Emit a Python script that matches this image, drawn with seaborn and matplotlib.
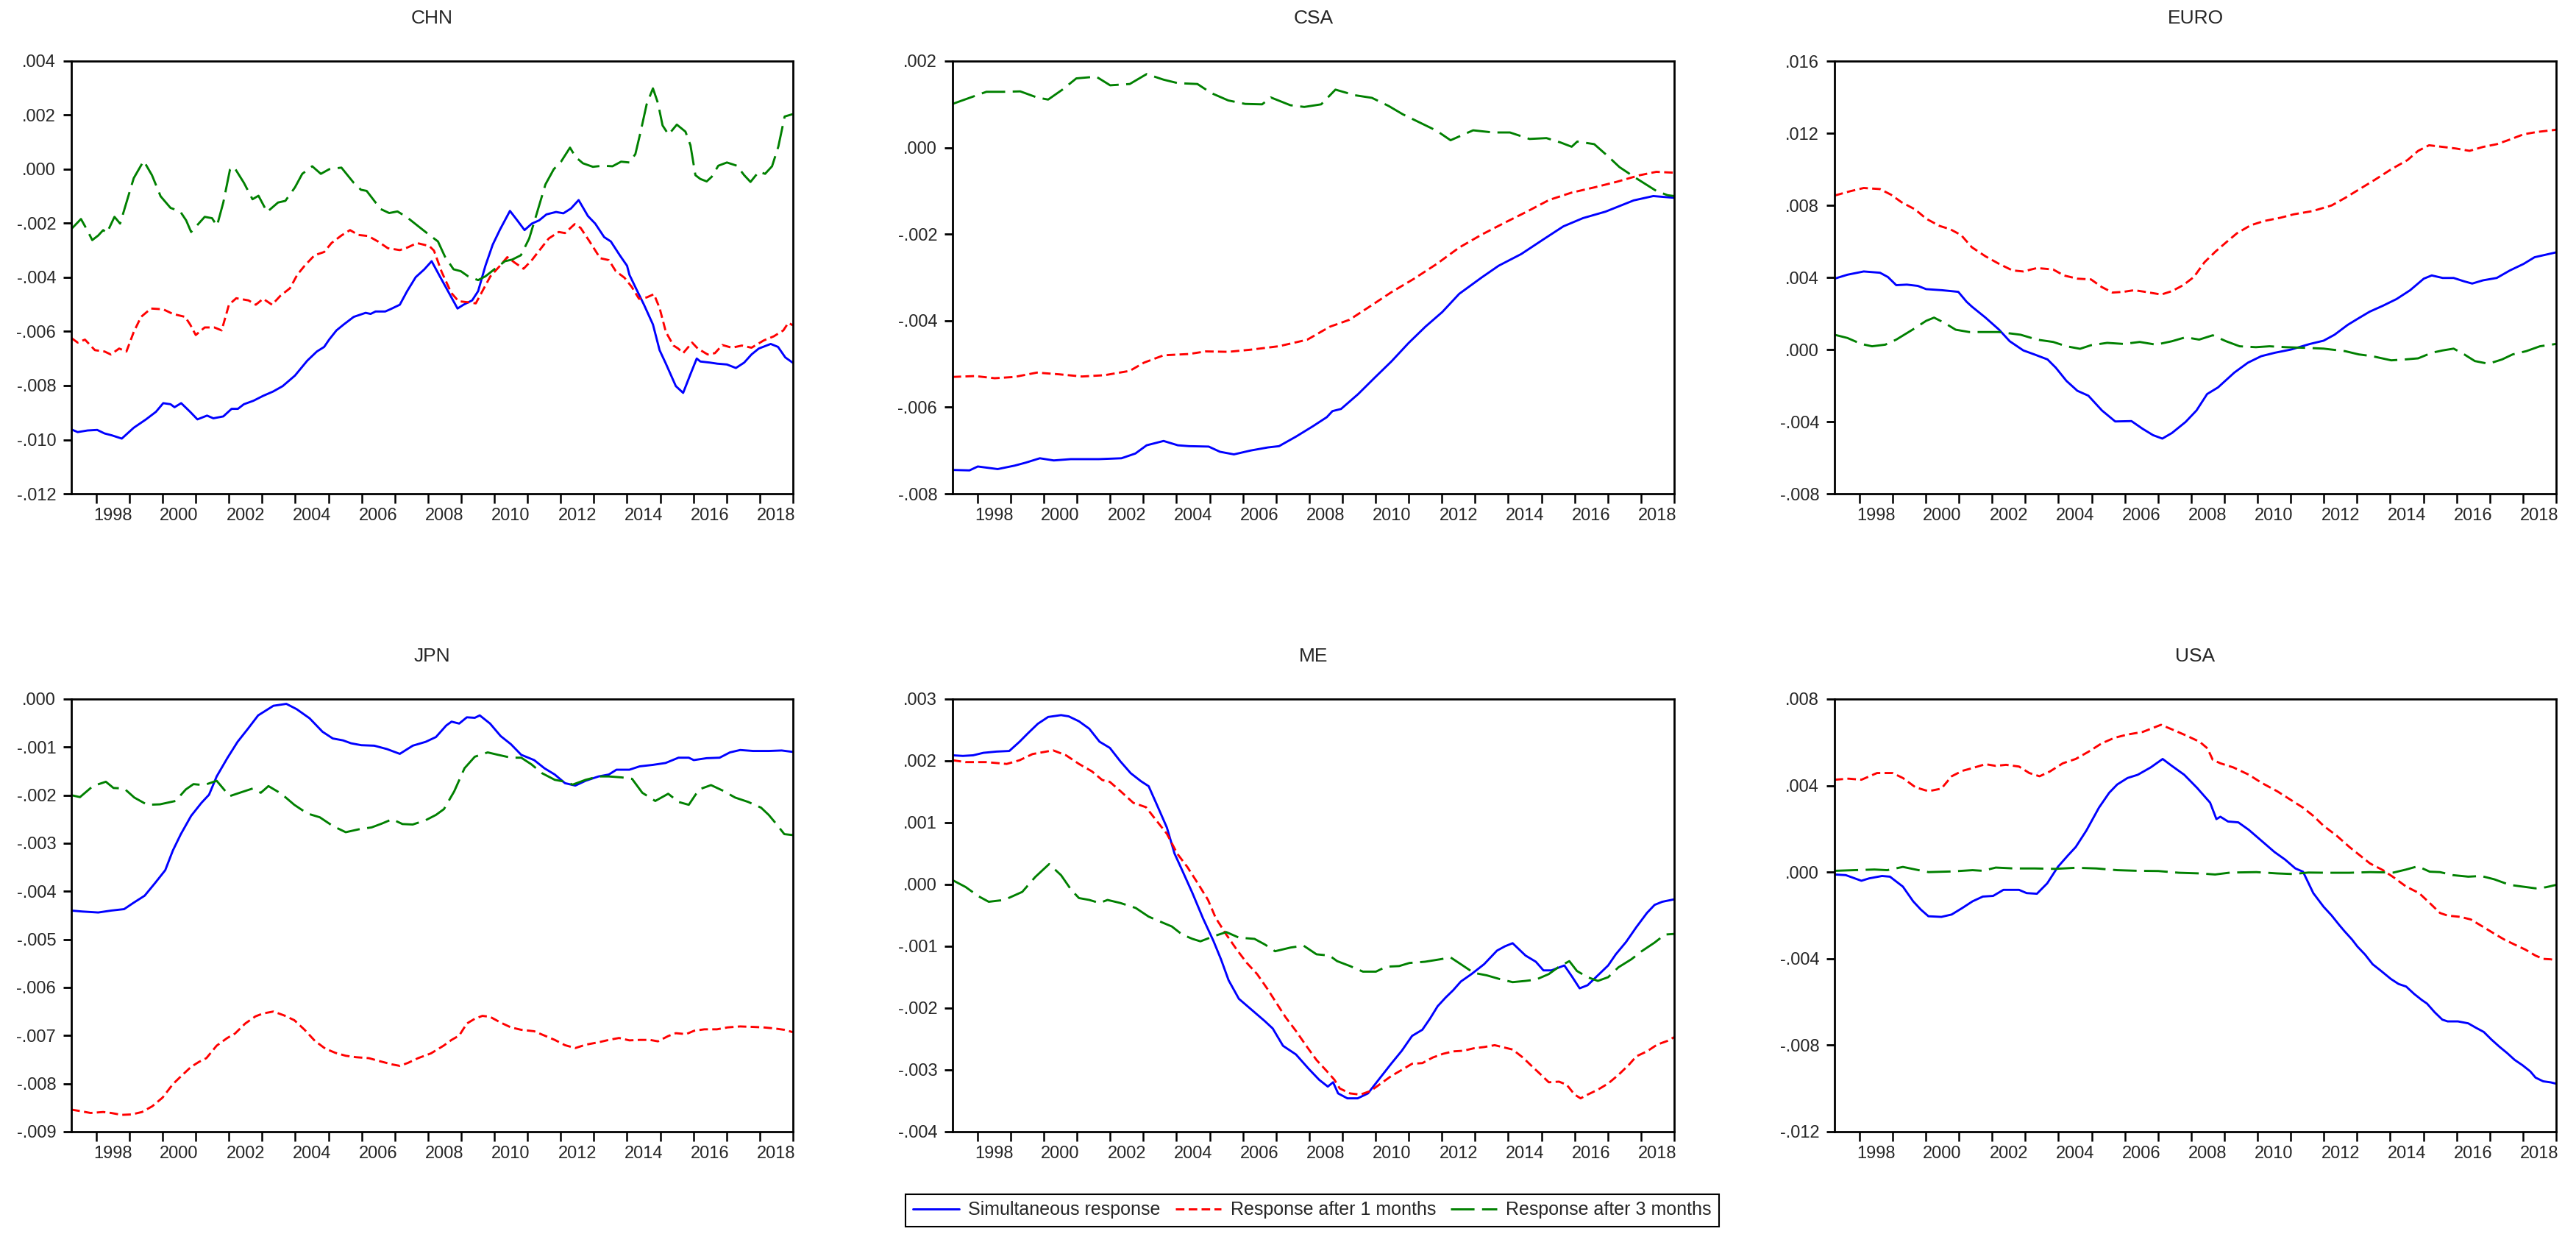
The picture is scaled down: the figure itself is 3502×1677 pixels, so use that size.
import matplotlib
matplotlib.use('Agg')
import numpy as np
import pandas as pd
import seaborn as sns
from matplotlib import pyplot as plt
from matplotlib.ticker import FuncFormatter

# ---- data (decimal years) ----
series_names = ['Simultaneous response', 'Response after 1 months', 'Response after 3 months']
series_colors = ['#0000ff', '#ff0000', '#008000']

chn_sim_t = [1997.25, 1997.44, 1997.74, 1998.03, 1998.25, 1998.47, 1998.77, 1999.13, 1999.50, 1999.80,
             2000.02, 2000.24, 2000.36, 2000.56, 2000.83, 2001.05, 2001.34, 2001.53, 2001.83, 2002.08,
             2002.27, 2002.45, 2002.74, 2003.03, 2003.33, 2003.62, 2003.99, 2004.36, 2004.65, 2004.87,
             2005.02, 2005.24, 2005.46, 2005.76, 2006.12, 2006.27, 2006.42, 2006.71, 2006.86, 2007.15,
             2007.37, 2007.63, 2007.89, 2008.11, 2008.33, 2008.63, 2008.89, 2009.07, 2009.33, 2009.51,
             2009.73, 2009.95, 2010.17, 2010.47, 2010.69, 2010.91, 2011.13, 2011.35, 2011.57, 2011.86,
             2012.08, 2012.31, 2012.54, 2012.82, 2013.04, 2013.31, 2013.51, 2013.78, 2014.00, 2014.07,
             2014.29, 2014.51, 2014.78, 2014.98, 2015.17, 2015.47, 2015.69, 2015.91, 2016.10, 2016.21,
             2016.50, 2016.72, 2017.01, 2017.28, 2017.53, 2017.75, 2017.97, 2018.33, 2018.55, 2018.77,
             2019.00]
chn_sim = [-0.00962, -0.00972, -0.00966, -0.00964, -0.00977, -0.00984, -0.00996, -0.00956, -0.00925, -0.00897,
           -0.00865, -0.00869, -0.0088, -0.00865, -0.00897, -0.00925, -0.00911, -0.00921, -0.00914, -0.00886,
           -0.00886, -0.00869, -0.00856, -0.00838, -0.00822, -0.00802, -0.00763, -0.00708, -0.00674, -0.00657,
           -0.0063, -0.00596, -0.00574, -0.00546, -0.00531, -0.00535, -0.00526, -0.00526, -0.00518, -0.00501,
           -0.00451, -0.00399, -0.0037, -0.0034, -0.0039, -0.00457, -0.00515, -0.00501, -0.00485, -0.00451,
           -0.00357, -0.00279, -0.00223, -0.00154, -0.00189, -0.00225, -0.00201, -0.00189, -0.00167, -0.00158,
           -0.00163, -0.00145, -0.00114, -0.00173, -0.00201, -0.00251, -0.00267, -0.00318, -0.00357, -0.0039,
           -0.00446, -0.00501, -0.00574, -0.00669, -0.00719, -0.00802, -0.00827, -0.00758, -0.007, -0.00711,
           -0.00715, -0.00719, -0.00722, -0.00735, -0.00715, -0.00685, -0.00663, -0.00646, -0.00657, -0.00696,
           -0.00716]

chn_m1_t = [1997.25, 1997.44, 1997.66, 1997.96, 1998.25, 1998.44, 1998.69, 1998.91, 1999.13, 1999.35,
            1999.65, 2000.02, 2000.31, 2000.68, 2000.83, 2001.00, 2001.27, 2001.56, 2001.78, 2002.00,
            2002.22, 2002.59, 2002.81, 2003.03, 2003.30, 2003.55, 2003.84, 2004.06, 2004.28, 2004.58,
            2004.87, 2005.09, 2005.39, 2005.65, 2005.90, 2006.20, 2006.49, 2006.79, 2007.15, 2007.37,
            2007.67, 2008.04, 2008.18, 2008.41, 2008.70, 2008.92, 2009.21, 2009.44, 2009.66, 2009.88,
            2010.17, 2010.39, 2010.61, 2010.88, 2011.13, 2011.39, 2011.64, 2011.94, 2012.13, 2012.42,
            2012.60, 2012.87, 2013.19, 2013.45, 2013.66, 2013.92, 2014.14, 2014.36, 2014.59, 2014.81,
            2014.98, 2015.17, 2015.40, 2015.54, 2015.69, 2015.96, 2016.13, 2016.43, 2016.65, 2016.87,
            2017.16, 2017.46, 2017.75, 2018.12, 2018.42, 2018.71, 2018.86, 2019.00]
chn_m1 = [-0.00624, -0.00641, -0.0063, -0.00669, -0.00674, -0.00685, -0.00663, -0.00674, -0.00602, -0.00546,
          -0.00515, -0.00518, -0.00535, -0.00546, -0.00574, -0.00613, -0.00585, -0.00585, -0.00596, -0.00501,
          -0.00477, -0.00485, -0.00501, -0.00479, -0.00501, -0.00468, -0.0044, -0.0039, -0.00357, -0.00318,
          -0.00306, -0.00273, -0.00245, -0.00225, -0.00243, -0.00247, -0.00267, -0.00292, -0.00299, -0.0029,
          -0.00273, -0.00284, -0.00301, -0.00379, -0.00457, -0.00488, -0.00492, -0.00496, -0.00446, -0.00396,
          -0.00357, -0.00325, -0.00345, -0.00368, -0.00336, -0.00295, -0.00256, -0.00232, -0.00236, -0.00203,
          -0.00217, -0.00267, -0.00329, -0.00336, -0.00377, -0.00401, -0.00435, -0.00479, -0.00474, -0.00462,
          -0.00513, -0.00602, -0.00652, -0.00663, -0.0068, -0.00641, -0.00663, -0.00685, -0.0068, -0.0065,
          -0.0066, -0.00652, -0.0066, -0.00633, -0.00618, -0.00596, -0.00568, -0.00577]

chn_m3_t = [1997.25, 1997.54, 1997.74, 1997.88, 1998.06, 1998.21, 1998.32, 1998.55, 1998.72, 1998.91,
            1999.13, 1999.43, 1999.68, 1999.94, 2000.24, 2000.53, 2000.71, 2000.86, 2001.05, 2001.27,
            2001.49, 2001.64, 2001.83, 2002.03, 2002.15, 2002.45, 2002.71, 2002.89, 2003.15, 2003.48,
            2003.70, 2003.99, 2004.21, 2004.51, 2004.77, 2005.02, 2005.39, 2005.76, 2005.98, 2006.15,
            2006.57, 2006.83, 2007.08, 2007.37, 2007.74, 2008.04, 2008.30, 2008.51, 2008.77, 2008.99,
            2009.21, 2009.51, 2009.73, 2010.02, 2010.32, 2010.54, 2010.80, 2011.05, 2011.27, 2011.54,
            2011.79, 2012.01, 2012.28, 2012.45, 2012.67, 2012.97, 2013.26, 2013.56, 2013.82, 2014.07,
            2014.25, 2014.40, 2014.59, 2014.78, 2014.93, 2015.07, 2015.25, 2015.50, 2015.76, 2015.91,
            2016.06, 2016.21, 2016.40, 2016.55, 2016.75, 2017.01, 2017.31, 2017.53, 2017.72, 2017.97,
            2018.16, 2018.37, 2018.56, 2018.75, 2019.00]
chn_m3 = [-0.00221, -0.00184, -0.00228, -0.00262, -0.00245, -0.00225, -0.00236, -0.00176, -0.00201, -0.00123,
          -0.00033, 0.00031, -0.00022, -0.001, -0.00143, -0.00156, -0.00189, -0.00232, -0.00206, -0.00176,
          -0.00181, -0.00209, -0.00123, -0.00002, 0.00009, -0.0005, -0.00111, -0.00098, -0.00158, -0.00123,
          -0.00117, -0.00067, -0.00017, 0.00011, -0.00017, 0.0, 0.00006, -0.0005, -0.00076, -0.0008,
          -0.00147, -0.00162, -0.00156, -0.00178, -0.00214, -0.00243, -0.00267, -0.00323, -0.0037, -0.00377,
          -0.00396, -0.0041, -0.00396, -0.00368, -0.0034, -0.00334, -0.00318, -0.00256, -0.00167, -0.00056,
          0.0, 0.00028, 0.0008, 0.00045, 0.00022, 0.00009, 0.00013, 0.00011, 0.00028, 0.00025,
          0.00056, 0.00134, 0.0024, 0.00299, 0.00245, 0.00162, 0.00128, 0.00165, 0.00139, 0.00089,
          -0.00022, -0.00036, -0.00045, -0.00028, 0.00013, 0.00025, 0.00013, -0.00022, -0.00047, -0.00009,
          -0.00017, 0.00011, 0.00084, 0.00195, 0.00204]

csa_sim_t = [1997.25, 1997.76, 1998.01, 1998.61, 1999.12, 1999.46, 1999.88, 2000.30, 2000.81, 2001.66,
             2002.34, 2002.76, 2003.10, 2003.61, 2004.04, 2004.38, 2004.97, 2005.31, 2005.73, 2006.24,
             2006.75, 2007.09, 2007.60, 2008.11, 2008.53, 2008.70, 2008.96, 2009.47, 2009.97, 2010.48,
             2010.99, 2011.50, 2012.01, 2012.52, 2013.20, 2013.71, 2014.39, 2015.06, 2015.66, 2016.25,
             2016.93, 2017.78, 2018.37, 2019.00]
csa_sim = [-0.00745, -0.00746, -0.00737, -0.00743, -0.00735, -0.00728, -0.00718, -0.00723, -0.0072, -0.0072,
           -0.00718, -0.00707, -0.00688, -0.00678, -0.00688, -0.0069, -0.00691, -0.00703, -0.00709, -0.007,
           -0.00693, -0.0069, -0.00668, -0.00644, -0.00623, -0.00609, -0.00604, -0.0057, -0.00532, -0.00494,
           -0.00452, -0.00414, -0.0038, -0.00338, -0.003, -0.00273, -0.00246, -0.00212, -0.00182, -0.00163,
           -0.00148, -0.00122, -0.00112, -0.00116]

csa_m1_t = [1997.25, 1997.93, 1998.52, 1999.12, 1999.79, 2000.47, 2001.15, 2001.83, 2002.59, 2003.02,
            2003.61, 2004.38, 2004.88, 2005.56, 2006.24, 2007.09, 2007.94, 2008.62, 2009.21, 2009.81,
            2010.48, 2011.16, 2011.84, 2012.52, 2013.20, 2013.88, 2014.56, 2015.23, 2015.91, 2016.59,
            2017.27, 2017.95, 2018.46, 2019.00]
csa_m1 = [-0.0053, -0.00528, -0.00533, -0.0053, -0.0052, -0.00524, -0.00529, -0.00526, -0.00516, -0.00497,
          -0.0048, -0.00477, -0.00471, -0.00472, -0.00467, -0.00459, -0.00444, -0.00414, -0.00398, -0.00368,
          -0.00334, -0.00303, -0.00269, -0.00231, -0.00201, -0.00174, -0.00148, -0.00121, -0.00104, -0.00092,
          -0.00079, -0.00064, -0.00056, -0.00058]

csa_m3_t = [1997.25, 1997.76, 1998.27, 1998.78, 1999.29, 1999.79, 2000.13, 2000.56, 2000.98, 2001.58,
            2002.00, 2002.59, 2003.10, 2003.61, 2004.04, 2004.63, 2005.05, 2005.56, 2006.07, 2006.58,
            2006.84, 2007.43, 2007.85, 2008.36, 2008.79, 2009.38, 2009.89, 2010.40, 2010.82, 2011.33,
            2011.84, 2012.26, 2012.94, 2013.54, 2014.05, 2014.64, 2015.15, 2015.57, 2015.91, 2016.08,
            2016.59, 2017.02, 2017.35, 2017.86, 2018.46, 2018.80, 2019.00]
csa_m3 = [0.00101, 0.00115, 0.00129, 0.00129, 0.0013, 0.00116, 0.00111, 0.00134, 0.0016, 0.00164,
          0.00144, 0.00147, 0.0017, 0.00157, 0.00149, 0.00147, 0.00126, 0.00109, 0.00101, 0.001,
          0.00116, 0.00098, 0.00094, 0.001, 0.00134, 0.00121, 0.00115, 0.00096, 0.00077, 0.00058,
          0.00039, 0.00017, 0.0004, 0.00035, 0.00035, 0.0002, 0.00022, 0.00012, 0.00002, 0.00014,
          0.00008, -0.00021, -0.00045, -0.00071, -0.001, -0.0011, -0.00112]

euro_sim_t = [1997.25, 1997.64, 1998.13, 1998.62, 1998.86, 1999.11, 1999.43, 1999.76, 2000.01, 2000.49,
              2000.98, 2001.23, 2001.39, 2001.80, 2002.21, 2002.53, 2002.94, 2003.27, 2003.67, 2003.92,
              2004.24, 2004.57, 2004.90, 2005.31, 2005.71, 2006.20, 2006.53, 2006.85, 2007.13, 2007.42,
              2007.83, 2008.16, 2008.48, 2008.81, 2009.30, 2009.71, 2010.11, 2010.52, 2011.01, 2011.58,
              2011.99, 2012.32, 2012.72, 2013.05, 2013.38, 2013.78, 2014.19, 2014.60, 2015.01, 2015.25,
              2015.58, 2015.91, 2016.23, 2016.47, 2016.80, 2017.21, 2017.61, 2018.02, 2018.35, 2019.00]
euro_sim = [0.00393, 0.00415, 0.00433, 0.00426, 0.00402, 0.00357, 0.0036, 0.00353, 0.00335, 0.00329,
            0.0032, 0.00265, 0.00238, 0.00177, 0.0011, 0.00046, -0.00005, -0.00027, -0.00055, -0.00101,
            -0.00174, -0.00229, -0.00256, -0.00338, -0.00399, -0.00397, -0.00439, -0.00475, -0.00494, -0.00463,
            -0.00402, -0.00338, -0.00247, -0.0021, -0.00128, -0.00073, -0.00037, -0.00018, 0.0, 0.00031,
            0.00049, 0.00082, 0.00137, 0.00174, 0.0021, 0.00243, 0.0028, 0.00329, 0.00393, 0.00411,
            0.00397, 0.00397, 0.00378, 0.00366, 0.00384, 0.00397, 0.00439, 0.00475, 0.00512, 0.00539]

euro_m1_t = [1997.25, 1997.72, 1998.13, 1998.62, 1998.95, 1999.27, 1999.68, 2000.01, 2000.41, 2000.74,
             2001.07, 2001.39, 2001.80, 2002.21, 2002.61, 2002.94, 2003.35, 2003.84, 2004.16, 2004.57,
             2004.98, 2005.30, 2005.63, 2005.96, 2006.28, 2006.61, 2007.10, 2007.42, 2007.75, 2008.08,
             2008.40, 2008.73, 2009.05, 2009.38, 2009.79, 2010.20, 2010.69, 2011.09, 2011.66, 2012.23,
             2012.64, 2013.05, 2013.54, 2014.03, 2014.52, 2014.84, 2015.17, 2015.58, 2015.98, 2016.39,
             2016.80, 2017.21, 2017.61, 2018.02, 2018.43, 2019.00]
euro_m1 = [0.00854, 0.00878, 0.00896, 0.0089, 0.00859, 0.00817, 0.00777, 0.00726, 0.00686, 0.00667,
           0.00634, 0.00567, 0.00517, 0.00475, 0.00439, 0.00433, 0.00452, 0.00444, 0.00411, 0.00393,
           0.00389, 0.00347, 0.00316, 0.0032, 0.00329, 0.0032, 0.00305, 0.00324, 0.00356, 0.00402,
           0.00484, 0.00543, 0.00594, 0.00645, 0.00689, 0.00713, 0.00731, 0.0075, 0.00768, 0.00799,
           0.00841, 0.00887, 0.00942, 0.01, 0.01051, 0.01102, 0.01133, 0.01124, 0.01115, 0.01102,
           0.01124, 0.01139, 0.01165, 0.01194, 0.01207, 0.01219]

euro_m3_t = [1997.25, 1997.64, 1998.05, 1998.38, 1998.78, 1999.11, 1999.60, 2000.01, 2000.25, 2000.58,
             2000.90, 2001.31, 2001.72, 2002.21, 2002.86, 2003.35, 2003.84, 2004.24, 2004.65, 2004.98,
             2005.47, 2005.96, 2006.45, 2006.94, 2007.42, 2007.83, 2008.24, 2008.65, 2009.05, 2009.46,
             2009.95, 2010.36, 2010.85, 2011.50, 2011.99, 2012.64, 2013.05, 2013.46, 2014.03, 2014.44,
             2014.84, 2015.25, 2015.58, 2015.91, 2016.23, 2016.55, 2016.96, 2017.37, 2017.69, 2018.10,
             2018.51, 2019.00]
euro_m3 = [0.00082, 0.00064, 0.00031, 0.00018, 0.00027, 0.00055, 0.0011, 0.00159, 0.00177, 0.00146,
           0.0011, 0.00097, 0.00097, 0.00097, 0.00082, 0.00055, 0.00042, 0.00018, 0.00004, 0.00024,
           0.00037, 0.00031, 0.00042, 0.00027, 0.00046, 0.00068, 0.00055, 0.00079, 0.00046, 0.00018,
           0.00013, 0.00018, 0.00013, 0.00009, 0.00005, -0.00009, -0.00027, -0.00037, -0.0006, -0.00055,
           -0.00049, -0.00018, -0.00005, 0.00005, -0.00027, -0.00064, -0.00079, -0.00055, -0.00027, -0.00009,
           0.00018, 0.00031]

jpn_sim_t = [1997.25, 1997.59, 1998.06, 1998.45, 1998.84, 1999.12, 1999.46, 1999.77, 2000.08, 2000.31,
             2000.55, 2000.86, 2001.17, 2001.40, 2001.63, 2001.95, 2002.26, 2002.57, 2002.88, 2003.11,
             2003.34, 2003.73, 2004.04, 2004.43, 2004.82, 2005.13, 2005.44, 2005.68, 2005.99, 2006.38,
             2006.76, 2007.15, 2007.54, 2007.93, 2008.24, 2008.55, 2008.71, 2008.94, 2009.17, 2009.41,
             2009.56, 2009.87, 2010.19, 2010.50, 2010.81, 2011.20, 2011.51, 2011.82, 2012.13, 2012.44,
             2012.75, 2013.14, 2013.45, 2013.68, 2014.07, 2014.38, 2014.77, 2015.16, 2015.55, 2015.86,
             2016.01, 2016.40, 2016.79, 2017.10, 2017.41, 2017.80, 2018.27, 2018.66, 2019.00]
jpn_sim = [-0.0044, -0.00442, -0.00444, -0.0044, -0.00437, -0.00424, -0.00409, -0.00383, -0.00356, -0.00315,
           -0.00281, -0.00243, -0.00216, -0.00199, -0.00161, -0.00123, -0.00089, -0.00062, -0.00034, -0.00024,
           -0.00014, -0.0001, -0.00021, -0.0004, -0.00068, -0.00082, -0.00086, -0.00092, -0.00096, -0.00097,
           -0.00104, -0.00114, -0.00097, -0.00089, -0.00079, -0.00055, -0.00047, -0.00051, -0.00038, -0.00039,
           -0.00034, -0.00051, -0.00077, -0.00094, -0.00116, -0.00127, -0.00144, -0.00157, -0.00175, -0.0018,
           -0.0017, -0.00161, -0.00157, -0.00147, -0.00147, -0.0014, -0.00137, -0.00133, -0.00122, -0.00122,
           -0.00127, -0.00123, -0.00122, -0.00111, -0.00106, -0.00108, -0.00108, -0.00107, -0.0011]

jpn_m1_t = [1997.25, 1997.51, 1997.83, 1998.21, 1998.45, 1998.76, 1999.07, 1999.38, 1999.69, 2000.00,
            2000.31, 2000.55, 2000.86, 2001.09, 2001.32, 2001.63, 2001.95, 2002.18, 2002.49, 2002.80,
            2003.03, 2003.34, 2003.66, 2003.97, 2004.28, 2004.59, 2004.90, 2005.21, 2005.52, 2005.83,
            2006.22, 2006.53, 2006.92, 2007.15, 2007.39, 2007.70, 2008.09, 2008.47, 2008.71, 2008.94,
            2009.17, 2009.41, 2009.64, 2009.87, 2010.19, 2010.50, 2010.81, 2011.20, 2011.51, 2011.82,
            2012.13, 2012.44, 2012.75, 2013.14, 2013.45, 2013.76, 2014.07, 2014.38, 2014.69, 2014.93,
            2015.24, 2015.47, 2015.78, 2016.02, 2016.33, 2016.71, 2017.03, 2017.41, 2017.80, 2018.11,
            2018.42, 2018.74, 2019.00]
jpn_m1 = [-0.00854, -0.00857, -0.00861, -0.00859, -0.00861, -0.00865, -0.00864, -0.00859, -0.00847, -0.00829,
          -0.00801, -0.00785, -0.00765, -0.00755, -0.00747, -0.00721, -0.00705, -0.00696, -0.00675, -0.0066,
          -0.00654, -0.0065, -0.00658, -0.00668, -0.00688, -0.00711, -0.00727, -0.00736, -0.00742, -0.00745,
          -0.00747, -0.00753, -0.0076, -0.00763, -0.00757, -0.00747, -0.00737, -0.00721, -0.00709, -0.007,
          -0.00675, -0.00665, -0.00659, -0.00661, -0.00673, -0.00683, -0.00688, -0.00691, -0.007, -0.00709,
          -0.0072, -0.00726, -0.00719, -0.00714, -0.00709, -0.00705, -0.0071, -0.00709, -0.00709, -0.00712,
          -0.00701, -0.00695, -0.00697, -0.0069, -0.00687, -0.00687, -0.00683, -0.00681, -0.00682, -0.00683,
          -0.00685, -0.00688, -0.00693]

jpn_m3_t = [1997.25, 1997.51, 1997.90, 1998.29, 1998.52, 1998.84, 1999.15, 1999.54, 1999.92, 2000.39,
            2000.70, 2000.93, 2001.25, 2001.63, 2002.02, 2002.41, 2002.72, 2002.96, 2003.19, 2003.58,
            2003.97, 2004.36, 2004.74, 2005.13, 2005.52, 2005.91, 2006.30, 2006.61, 2006.92, 2007.23,
            2007.54, 2007.93, 2008.24, 2008.48, 2008.79, 2009.10, 2009.41, 2009.80, 2010.11, 2010.50,
            2010.81, 2011.12, 2011.43, 2011.82, 2012.13, 2012.36, 2012.75, 2013.14, 2013.45, 2013.84,
            2014.15, 2014.46, 2014.85, 2015.24, 2015.55, 2015.86, 2016.17, 2016.53, 2016.87, 2017.26,
            2017.65, 2018.04, 2018.27, 2018.50, 2018.74, 2019.00]
jpn_m3 = [-0.002, -0.00204, -0.00181, -0.00172, -0.00185, -0.00186, -0.00205, -0.0022, -0.00219, -0.00212,
          -0.00188, -0.00177, -0.00179, -0.0017, -0.00202, -0.00193, -0.00186, -0.00195, -0.00181, -0.00197,
          -0.0022, -0.00238, -0.00246, -0.00264, -0.00277, -0.00271, -0.00267, -0.00259, -0.0025, -0.0026,
          -0.00261, -0.00252, -0.00241, -0.00229, -0.00192, -0.00144, -0.0012, -0.00111, -0.00116, -0.00122,
          -0.00122, -0.00136, -0.00154, -0.00168, -0.00172, -0.00178, -0.00168, -0.00161, -0.00161, -0.00163,
          -0.00166, -0.00195, -0.00212, -0.00197, -0.00214, -0.0022, -0.00188, -0.00179, -0.0019, -0.00205,
          -0.00214, -0.00226, -0.00241, -0.0026, -0.00281, -0.00283]

me_sim_t = [1997.25, 1997.56, 1997.87, 1998.18, 1998.57, 1998.96, 1999.27, 1999.51, 1999.82, 2000.13,
            2000.52, 2000.75, 2001.06, 2001.37, 2001.68, 2001.99, 2002.31, 2002.62, 2002.93, 2003.16,
            2003.40, 2003.71, 2003.94, 2004.17, 2004.48, 2004.80, 2005.11, 2005.34, 2005.57, 2005.88,
            2006.27, 2006.66, 2006.90, 2007.21, 2007.60, 2007.98, 2008.30, 2008.56, 2008.72, 2008.87,
            2009.15, 2009.46, 2009.77, 2010.09, 2010.47, 2010.79, 2011.10, 2011.41, 2011.64, 2011.87,
            2012.11, 2012.34, 2012.57, 2012.89, 2013.27, 2013.66, 2013.90, 2014.13, 2014.52, 2014.83,
            2015.06, 2015.30, 2015.69, 2015.92, 2016.15, 2016.39, 2016.70, 2017.01, 2017.24, 2017.55,
            2017.86, 2018.18, 2018.41, 2018.64, 2019.00]
me_sim = [0.00209, 0.00208, 0.00209, 0.00213, 0.00215, 0.00216, 0.00231, 0.00244, 0.0026, 0.00271,
          0.00274, 0.00272, 0.00264, 0.00252, 0.00231, 0.00221, 0.00199, 0.0018, 0.00167, 0.00159,
          0.0013, 0.00092, 0.0005, 0.00023, -0.00014, -0.00055, -0.00091, -0.00121, -0.00155, -0.00185,
          -0.00203, -0.00221, -0.00233, -0.00261, -0.00275, -0.00298, -0.00316, -0.00327, -0.0032, -0.00338,
          -0.00346, -0.00346, -0.00338, -0.00316, -0.0029, -0.00269, -0.00245, -0.00235, -0.00217, -0.00197,
          -0.00183, -0.00171, -0.00157, -0.00145, -0.00129, -0.00107, -0.001, -0.00095, -0.00115, -0.00125,
          -0.00139, -0.00139, -0.00131, -0.00149, -0.00168, -0.00163, -0.00147, -0.00131, -0.00113, -0.00093,
          -0.00069, -0.00046, -0.00033, -0.00028, -0.00024]

me_m1_t = [1997.25, 1997.64, 1998.26, 1998.88, 1999.27, 1999.66, 2000.28, 2000.67, 2001.06, 2001.45,
           2001.76, 2001.99, 2002.31, 2002.70, 2003.08, 2003.40, 2003.71, 2004.02, 2004.33, 2004.64,
           2004.95, 2005.18, 2005.50, 2005.81, 2006.12, 2006.43, 2006.74, 2007.05, 2007.29, 2007.60,
           2007.91, 2008.22, 2008.53, 2008.76, 2008.92, 2009.23, 2009.54, 2009.85, 2010.16, 2010.47,
           2010.79, 2011.10, 2011.41, 2011.72, 2012.03, 2012.34, 2012.65, 2012.96, 2013.27, 2013.59,
           2013.82, 2014.13, 2014.44, 2014.75, 2014.99, 2015.22, 2015.53, 2015.76, 2016.00, 2016.18,
           2016.39, 2016.70, 2017.01, 2017.32, 2017.63, 2017.86, 2018.18, 2018.49, 2018.80, 2019.00]
me_m1 = [0.00201, 0.00198, 0.00198, 0.00195, 0.00201, 0.00211, 0.00217, 0.00209, 0.00195, 0.00183,
         0.00169, 0.00166, 0.00151, 0.00132, 0.00125, 0.00103, 0.00082, 0.0005, 0.00028, 0.00002,
         -0.00025, -0.00054, -0.00081, -0.00105, -0.00127, -0.00145, -0.00169, -0.00195, -0.00215, -0.00237,
         -0.00261, -0.00284, -0.00302, -0.00316, -0.0033, -0.00338, -0.0034, -0.00334, -0.00322, -0.0031,
         -0.003, -0.0029, -0.00289, -0.0028, -0.00274, -0.0027, -0.00269, -0.00265, -0.00263, -0.0026,
         -0.00263, -0.00267, -0.0028, -0.00296, -0.00308, -0.0032, -0.00319, -0.00324, -0.0034, -0.00346,
         -0.0034, -0.00332, -0.00322, -0.00308, -0.00292, -0.00278, -0.0027, -0.00259, -0.00253, -0.00247]

me_m3_t = [1997.25, 1997.64, 1998.03, 1998.34, 1998.81, 1999.35, 1999.74, 2000.16, 2000.52, 2000.83,
           2001.06, 2001.37, 2001.68, 2001.92, 2002.31, 2002.77, 2003.16, 2003.55, 2003.86, 2004.17,
           2004.48, 2004.72, 2005.11, 2005.50, 2005.88, 2006.35, 2006.66, 2006.97, 2007.44, 2007.83,
           2008.22, 2008.61, 2008.84, 2009.23, 2009.62, 2010.01, 2010.32, 2010.71, 2011.02, 2011.49,
           2011.95, 2012.26, 2012.57, 2012.96, 2013.35, 2013.74, 2014.13, 2014.52, 2014.83, 2015.22,
           2015.53, 2015.84, 2016.07, 2016.39, 2016.70, 2017.01, 2017.32, 2017.71, 2018.02, 2018.41,
           2018.72, 2019.00]
me_m3 = [0.00007, -0.00004, -0.00019, -0.00028, -0.00025, -0.00012, 0.00012, 0.00033, 0.00015, -0.00009,
         -0.00022, -0.00025, -0.0003, -0.00025, -0.0003, -0.00038, -0.00052, -0.00061, -0.00068, -0.00081,
         -0.00088, -0.00092, -0.00084, -0.00077, -0.00086, -0.00088, -0.00097, -0.00108, -0.00102, -0.00099,
         -0.00113, -0.00115, -0.00124, -0.00132, -0.00141, -0.00141, -0.00133, -0.00132, -0.00127, -0.00125,
         -0.00121, -0.00118, -0.00129, -0.00143, -0.00147, -0.00153, -0.00158, -0.00156, -0.00154, -0.00145,
         -0.00133, -0.00124, -0.0014, -0.0015, -0.00156, -0.0015, -0.00134, -0.00121, -0.00108, -0.00094,
         -0.00081, -0.0008]

usa_sim_t = [1997.25, 1997.59, 1998.06, 1998.29, 1998.68, 1998.92, 1999.31, 1999.62, 1999.85, 2000.08,
             2000.47, 2000.78, 2001.10, 2001.41, 2001.72, 2002.03, 2002.34, 2002.81, 2003.04, 2003.35,
             2003.66, 2003.98, 2004.29, 2004.52, 2004.84, 2005.22, 2005.53, 2005.77, 2006.08, 2006.39,
             2006.78, 2007.14, 2007.40, 2007.79, 2008.18, 2008.57, 2008.76, 2008.88, 2009.11, 2009.42,
             2009.74, 2010.05, 2010.51, 2010.83, 2011.14, 2011.37, 2011.68, 2011.99, 2012.23, 2012.46,
             2012.62, 2012.85, 2013.01, 2013.24, 2013.47, 2013.71, 2014.02, 2014.25, 2014.48, 2014.72,
             2014.95, 2015.11, 2015.34, 2015.57, 2015.73, 2016.04, 2016.35, 2016.59, 2016.82, 2017.05,
             2017.29, 2017.52, 2017.75, 2017.99, 2018.22, 2018.38, 2018.61, 2018.84, 2019.00]
usa_sim = [-0.00011, -0.00014, -0.0004, -0.00029, -0.00018, -0.00021, -0.00067, -0.00135, -0.00173, -0.00204,
           -0.00207, -0.00196, -0.00166, -0.00135, -0.00113, -0.0011, -0.00082, -0.00082, -0.00097, -0.001,
           -0.00052, 0.00024, 0.00078, 0.00116, 0.00192, 0.00298, 0.00367, 0.00405, 0.00435, 0.0045,
           0.00484, 0.00523, 0.00493, 0.0045, 0.00389, 0.00321, 0.00245, 0.00256, 0.00234, 0.0023,
           0.00195, 0.00154, 0.00093, 0.00058, 0.00017, 0.00002, -0.00097, -0.0016, -0.002, -0.00244,
           -0.00273, -0.00312, -0.00344, -0.00381, -0.00426, -0.00455, -0.00494, -0.00517, -0.00529, -0.00563,
           -0.00591, -0.00608, -0.00648, -0.00682, -0.0069, -0.0069, -0.00699, -0.0072, -0.00739, -0.00774,
           -0.00807, -0.00836, -0.00868, -0.00893, -0.00921, -0.0095, -0.00967, -0.00972, -0.00978]

usa_m1_t = [1997.25, 1997.67, 1998.06, 1998.53, 1999.00, 1999.31, 1999.69, 2000.08, 2000.47, 2000.78,
            2001.10, 2001.41, 2001.80, 2002.11, 2002.42, 2002.81, 2003.12, 2003.43, 2003.74, 2004.13,
            2004.52, 2004.91, 2005.30, 2005.69, 2006.08, 2006.54, 2007.09, 2007.48, 2007.87, 2008.26,
            2008.49, 2008.65, 2008.88, 2009.27, 2009.74, 2010.13, 2010.59, 2010.98, 2011.37, 2011.68,
            2011.99, 2012.38, 2012.77, 2013.08, 2013.39, 2013.78, 2014.10, 2014.48, 2014.87, 2015.19,
            2015.50, 2015.73, 2016.12, 2016.43, 2016.82, 2017.13, 2017.44, 2017.75, 2018.07, 2018.38,
            2018.61, 2018.84, 2019.00]
usa_m1 = [0.00427, 0.00432, 0.00427, 0.00458, 0.00458, 0.00435, 0.00392, 0.00374, 0.00386, 0.00443,
          0.00468, 0.00481, 0.00499, 0.00491, 0.00496, 0.00488, 0.00458, 0.00443, 0.00465, 0.00503,
          0.00523, 0.00557, 0.00595, 0.00621, 0.00636, 0.00648, 0.00681, 0.00656, 0.0063, 0.00602,
          0.00572, 0.00519, 0.00503, 0.00484, 0.0045, 0.00412, 0.00374, 0.00336, 0.00298, 0.0026,
          0.00214, 0.00169, 0.00116, 0.00078, 0.0004, 0.00009, -0.00024, -0.00067, -0.00097, -0.00143,
          -0.00189, -0.00201, -0.00207, -0.00219, -0.00255, -0.00284, -0.00312, -0.00335, -0.00358, -0.00386,
          -0.00401, -0.00403, -0.00409]

usa_m3_t = [1997.25, 1997.83, 1998.45, 1998.84, 1999.31, 1999.69, 2000.08, 2000.78, 2001.41, 2001.72,
            2002.11, 2002.65, 2003.28, 2003.90, 2004.52, 2005.14, 2005.77, 2006.39, 2007.01, 2007.63,
            2008.26, 2008.72, 2009.19, 2009.97, 2010.59, 2011.06, 2011.53, 2012.15, 2012.77, 2013.39,
            2014.10, 2014.48, 2014.83, 2015.19, 2015.50, 2015.89, 2016.35, 2016.74, 2017.13, 2017.60,
            2017.99, 2018.38, 2018.69, 2019.00]
usa_m3 = [0.00006, 0.00009, 0.00012, 0.00009, 0.00024, 0.00012, 0.0, 0.00003, 0.00009, 0.00006,
          0.00021, 0.00017, 0.00017, 0.00015, 0.0002, 0.00017, 0.00009, 0.00006, 0.00005, -0.00003,
          -0.00006, -0.00011, -0.00002, 0.0, -0.00006, -0.00009, -0.00002, -0.00003, -0.00003, 0.0,
          -0.00002, 0.00012, 0.00027, 0.00002, 0.0, -0.00014, -0.00021, -0.00018, -0.00033, -0.00059,
          -0.00067, -0.00075, -0.0007, -0.00059]

# panel title, series, y range and y tick step
panels = [
    ('CHN', [(chn_sim_t, chn_sim), (chn_m1_t, chn_m1), (chn_m3_t, chn_m3)], -0.012, 0.004, 0.002),
    ('CSA', [(csa_sim_t, csa_sim), (csa_m1_t, csa_m1), (csa_m3_t, csa_m3)], -0.008, 0.002, 0.002),
    ('EURO', [(euro_sim_t, euro_sim), (euro_m1_t, euro_m1), (euro_m3_t, euro_m3)], -0.008, 0.016, 0.004),
    ('JPN', [(jpn_sim_t, jpn_sim), (jpn_m1_t, jpn_m1), (jpn_m3_t, jpn_m3)], -0.009, 0.000, 0.001),
    ('ME', [(me_sim_t, me_sim), (me_m1_t, me_m1), (me_m3_t, me_m3)], -0.004, 0.003, 0.001),
    ('USA', [(usa_sim_t, usa_sim), (usa_m1_t, usa_m1), (usa_m3_t, usa_m3)], -0.012, 0.008, 0.004),
]

# ---- style ----
sns.set_style('white')
plt.rcParams['font.family'] = ['Liberation Sans', 'DejaVu Sans']

W, H = 3502, 1677
fig = plt.figure(figsize=(W / 100, H / 100), dpi=100)

col_left = [97, 1295, 2494]
row_top = [83, 950]
ax_w, ax_h = 981, 588

palette = dict(zip(series_names, series_colors))
dash_map = dict(zip(series_names, ['', (4, 2), (11, 3.5)]))


def eviews_fmt(v, pos):
    s = '%.3f' % v
    if s == '-0.000':
        s = '0.000'
    return s.replace('0.', '.', 1)


axes = []
for i, (name, parts, ymin, ymax, ystep) in enumerate(panels):
    r, c = divmod(i, 3)
    ax = fig.add_axes([col_left[c] / W, 1 - (row_top[r] + ax_h) / H, ax_w / W, ax_h / H])
    axes.append(ax)

    frames = []
    for sname, (t, v) in zip(series_names, parts):
        frames.append(pd.DataFrame({'date': t, 'value': v, 'series': sname}))
    df = pd.concat(frames, ignore_index=True)

    sns.lineplot(data=df, x='date', y='value', hue='series', style='series',
                 hue_order=series_names, style_order=series_names,
                 palette=palette, dashes=dash_map, linewidth=2.1,
                 estimator=None, legend=False, ax=ax)

    ax.set_xlabel('')
    ax.set_ylabel('')
    ax.set_xlim(1997.25, 2019.0)
    ax.set_ylim(ymin, ymax)
    n = int(round((ymax - ymin) / ystep))
    ax.set_yticks(np.linspace(ymin, ymax, n + 1))
    ax.yaxis.set_major_formatter(FuncFormatter(eviews_fmt))

    years = np.arange(1998, 2020)
    ax.set_xticks(years, labels=[''] * len(years))
    lab_years = np.arange(1998, 2019, 2)
    ax.set_xticks(lab_years + 0.5, labels=[str(y) for y in lab_years], minor=True)

    ax.tick_params(axis='y', which='major', direction='out', left=True, right=False,
                   length=8, width=2, pad=7, labelsize=17, color='black')
    ax.tick_params(axis='x', which='major', direction='out', bottom=True, top=False,
                   length=9, width=1.8, color='black')
    ax.tick_params(axis='x', which='minor', bottom=True, length=0, pad=14, labelsize=17)

    for sp in ax.spines.values():
        sp.set_color('black')
        sp.set_linewidth(2.0)

    ax.set_title(name, fontsize=19, pad=37)

handles = axes[0].get_lines()[:3]
leg = fig.legend(handles, series_names, loc='center',
                 bbox_to_anchor=(1784 / W, 1 - 1644.5 / H), ncol=3,
                 frameon=True, fancybox=False, shadow=False, framealpha=1,
                 edgecolor='black', fontsize=18, handlelength=2.5,
                 handletextpad=0.5, columnspacing=0.8, borderpad=0.4,
                 borderaxespad=0)
leg.get_frame().set_linewidth(1.5)

fig.savefig('out.png', dpi=100)
